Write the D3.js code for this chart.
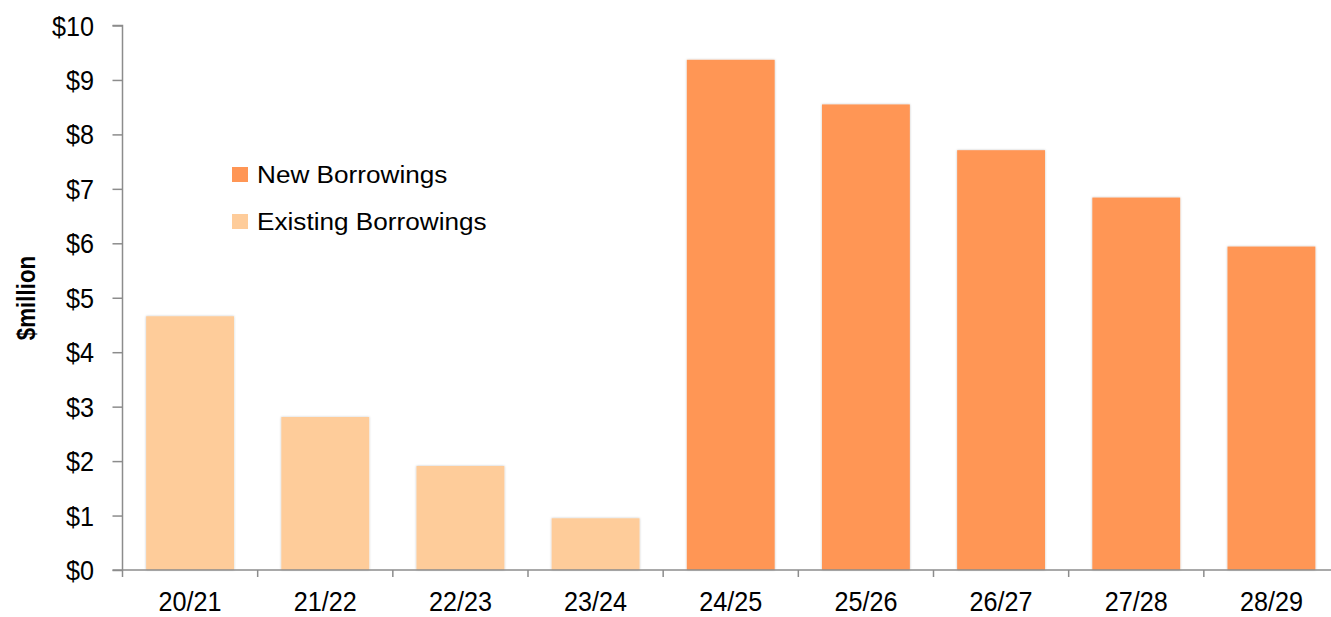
<!DOCTYPE html>
<html><head><meta charset="utf-8">
<script src="https://cdn.jsdelivr.net/npm/d3@7"></script>
<style>body{margin:0;background:#fff}svg{display:block;font-family:"Liberation Sans",Arial,sans-serif}</style>
</head><body><svg id="c" width="1331" height="617"></svg>
<script>
const categories = ["20/21","21/22","22/23","23/24","24/25","25/26","26/27","27/28","28/29"];
const seriesNames = ["New Borrowings","Existing Borrowings"];
const existingValues = [4.66, 2.81, 1.91, 0.95, 0, 0, 0, 0, 0];
const newValues = [0, 0, 0, 0, 9.37, 8.55, 7.71, 6.84, 5.94];
const yTicks = [0,1,2,3,4,5,6,7,8,9,10];
const colors = {"New Borrowings":"#FF9655","Existing Borrowings":"#FECC9A"};

const svg = d3.select("#c");
const x0 = 122.5, x1 = 1339, yTop = 25.5, yBot = 570;
const x = d3.scaleBand().domain(categories).range([x0, x1]).paddingInner(0.35).paddingOuter(0.175);
const y = d3.scaleLinear().domain([0,10]).range([yBot, yTop]);

const defs = svg.append("defs");
const f = defs.append("filter").attr("id","sh").attr("x","-10%").attr("y","-10%").attr("width","120%").attr("height","120%");
f.append("feDropShadow").attr("dx",0).attr("dy",0).attr("stdDeviation",1).attr("flood-color","#000").attr("flood-opacity",0.25);

const data = categories.map((c,i)=>({c, existing: existingValues[i], nw: newValues[i]}));
const g = svg.append("g");
data.forEach(d=>{
  if (d.existing>0) g.append("rect").attr("x",x(d.c)).attr("width",x.bandwidth()).attr("y",y(d.existing)).attr("height",y(0)-y(d.existing)).attr("fill",colors["Existing Borrowings"]).attr("filter","url(#sh)");
  if (d.nw>0) g.append("rect").attr("x",x(d.c)).attr("width",x.bandwidth()).attr("y",y(d.nw)).attr("height",y(0)-y(d.nw)).attr("fill",colors["New Borrowings"]).attr("filter","url(#sh)");
});

// y axis (line + ticks via d3 axis, labels drawn condensed)
const ya = svg.append("g").attr("transform",`translate(${x0},0)`)
  .call(d3.axisLeft(y).tickValues(yTicks).tickFormat("").tickSize(10));
ya.select(".domain").attr("stroke","#8c8c8c").attr("stroke-width",1.5).attr("d",`M-10,${yTop}H0V${yBot}`);
ya.selectAll(".tick line").attr("stroke","#8c8c8c").attr("stroke-width",1.5);
yTicks.forEach(t=>{
  svg.append("text").attr("transform",`translate(94,${y(t)}) scale(0.9,1)`).attr("text-anchor","end")
    .attr("dy","0.36em").attr("font-size",28).attr("fill","#000").text("$"+t);
});

// x axis
const xa = svg.append("g").attr("transform",`translate(0,${yBot})`);
xa.append("line").attr("x1",x0-10).attr("x2",x1).attr("y1",0).attr("y2",0).attr("stroke","#8c8c8c").attr("stroke-width",1.5);
const step = x.step();
d3.range(categories.length+1).forEach(i=>{
  const xx = x0 + i*step;
  xa.append("line").attr("x1",xx).attr("x2",xx).attr("y1",0).attr("y2",7).attr("stroke","#8c8c8c").attr("stroke-width",1.5);
});
categories.forEach(c=>{
  xa.append("text").attr("transform",`translate(${x(c)+x.bandwidth()/2},41) scale(0.9,1)`)
    .attr("text-anchor","middle").attr("font-size",28).attr("fill","#000").text(c);
});

// y title
svg.append("text").attr("transform","translate(35,298) rotate(-90) scale(0.86,1)").attr("text-anchor","middle")
  .attr("font-size",26).attr("font-weight","bold").attr("fill","#000").text("$million");

// legend
const legendRows = [{name:"New Borrowings", y:175},{name:"Existing Borrowings", y:222}];
legendRows.forEach(r=>{
  svg.append("rect").attr("x",232).attr("y",r.y-8).attr("width",16).attr("height",15).attr("fill",colors[r.name]);
  svg.append("text").attr("transform",`translate(257,${r.y}) scale(1.09,1)`).attr("dy","0.35em")
    .attr("font-size",24).attr("fill","#000").text(r.name);
});
</script></body></html>
